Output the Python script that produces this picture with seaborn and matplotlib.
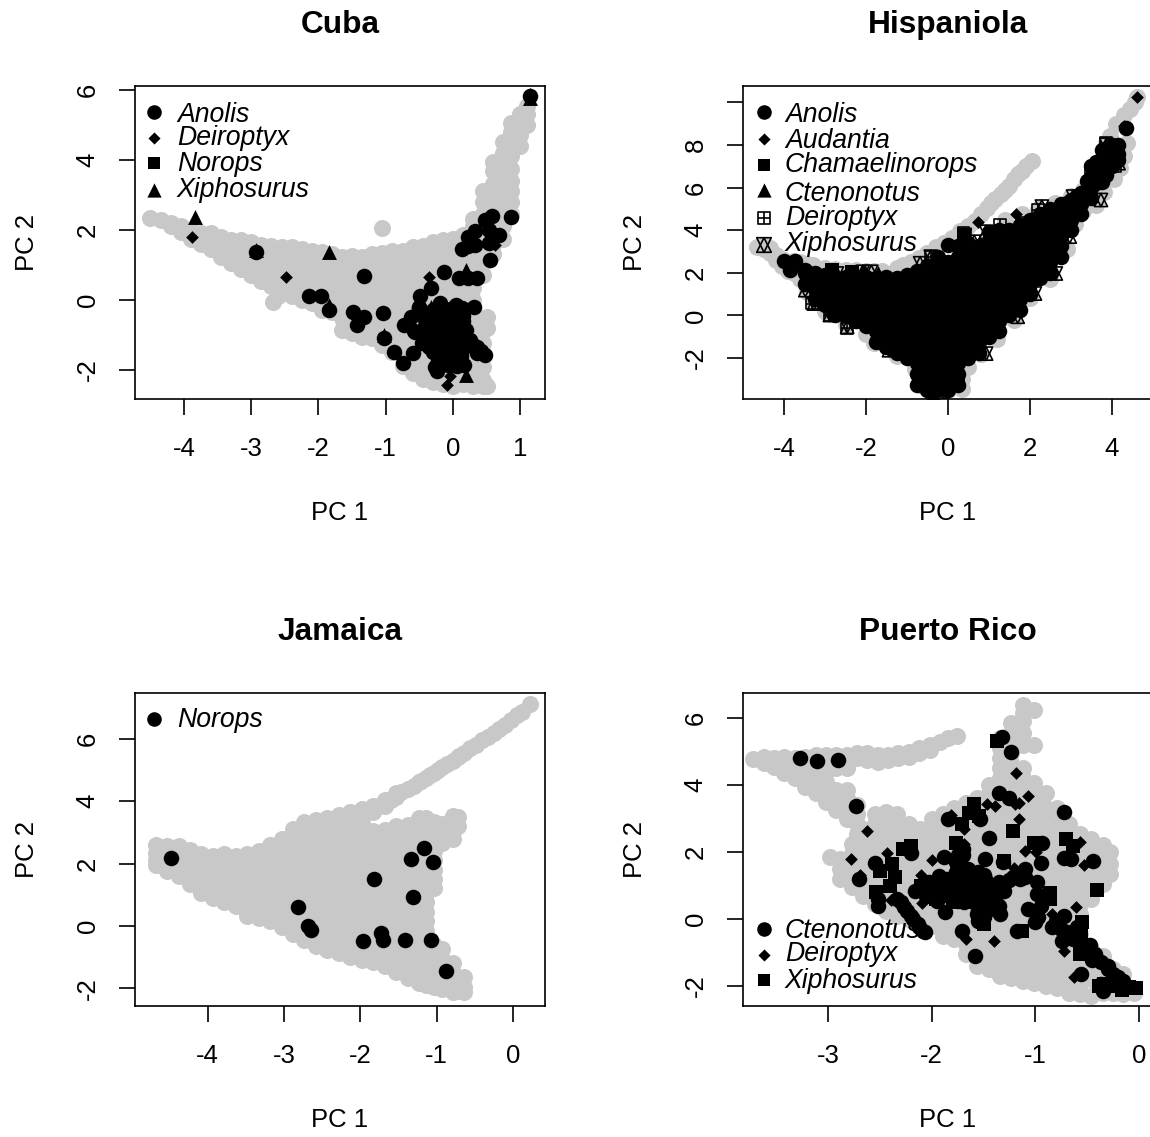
import matplotlib.pyplot as plt
import pandas as pd
import seaborn as sns

# grey cloud as (x, [y, ...]) columns
cuba_grey = [
    (-4.5, [2.35]), (-4.35, [2.27]), (-4.2, [2.1, 2.2]), (-4.05, [1.95, 2.1]), (-3.9, [1.75, 2.0]),
    (-3.75, [1.6, 1.92]), (-3.6, [1.45, 1.75, 1.9]), (-3.45, [1.22, 1.57, 1.8]), (-3.3, [1.05, 1.4, 1.7]),
    (-3.15, [0.87, 1.22, 1.57, 1.7]), (-3.0, [0.7, 1.05, 1.4, 1.65]), (-2.85, [0.55, 0.87, 1.22, 1.57]),
    (-2.7, [0.4, 0.7, 1.05, 1.4, 1.55]), (-2.68, [-0.05]), (-2.6, [0.1]), (-2.55, [0.25, 0.52, 0.87, 1.22, 1.5]),
    (-2.4, [0.1, 0.35, 0.7, 1.05, 1.4, 1.5]), (-2.25, [0.0, 0.17, 0.52, 0.87, 1.22, 1.45]),
    (-2.1, [-0.1, 0.0, 0.35, 0.7, 1.05, 1.4]), (-1.95, [-0.28, -0.18, 0.17, 0.52, 0.87, 1.22, 1.38]),
    (-1.8, [-0.35, 0.0, 0.35, 0.7, 1.05, 1.3]), (-1.65, [-0.85, -0.53, -0.18, 0.17, 0.52, 0.87, 1.22]),
    (-1.5, [-0.95, -0.7, -0.35, 0.0, 0.35, 0.7, 1.05, 1.25]),
    (-1.35, [-1.05, -0.88, -0.53, -0.18, 0.17, 0.52, 0.87, 1.22]),
    (-1.2, [-1.1, -0.7, -0.35, 0.0, 0.35, 0.7, 1.05, 1.3]),
    (-1.05, [-1.3, -0.88, -0.53, -0.18, 0.17, 0.52, 0.87, 1.22, 1.35]),
    (-0.9, [-1.5, -1.05, -0.7, -0.35, 0.0, 0.35, 0.7, 1.05, 1.4]),
    (-0.75, [-1.9, -1.58, -1.23, -0.88, -0.53, -0.18, 0.17, 0.52, 0.87, 1.22, 1.4]),
    (-0.6, [-2.1, -1.75, -1.4, -1.05, -0.7, -0.35, 0.0, 0.35, 0.7, 1.05, 1.4, 1.5]),
    (-0.45, [-2.25, -1.93, -1.58, -1.23, -0.88, -0.53, -0.18, 0.17, 0.52, 0.87, 1.22, 1.55]),
    (-0.3, [-2.35, -2.1, -1.75, -1.4, -1.05, -0.7, -0.35, 0.0, 0.35, 0.7, 1.05, 1.4, 1.65]),
    (-0.15, [-2.4, -2.28, -1.93, -1.58, -1.23, -0.88, -0.53, -0.18, 0.17, 0.52, 0.87, 1.22, 1.57, 1.7]),
    (0.0, [-2.45, -2.1, -1.75, -1.4, -1.05, -0.7, -0.35, 0.0, 0.35, 0.7, 1.05, 1.4, 1.75]),
    (0.15, [-2.4, -2.28, -1.93, -1.58, -1.23, -0.88, -0.53, -0.18, 0.17, 0.52, 0.87, 1.22, 1.57, 1.85]),
    (0.3, [-2.45, -2.1, -1.75, -1.4, -1.05, -0.7, -0.35, 0.0, 0.35, 0.7, 1.05, 1.4, 1.75, 2.1, 2.3]),
    (0.45, [-2.45, -2.28, -1.93, -1.58, -1.23, -0.88, -0.53, 0.72, 1.05, 1.4, 1.75, 2.1, 2.45, 2.8, 3.1]),
    (0.5, [-2.45, -0.5, -0.8]), (0.6, [1.3, 1.57, 1.92, 2.27, 2.62, 2.97, 3.32, 3.67, 3.95]),
    (0.75, [1.75, 2.1, 2.45, 2.8, 3.15, 3.5, 3.85, 4.2, 4.5]), (0.87, [2.45, 2.8, 3.1, 3.4, 3.75, 4.1, 4.45, 4.8, 5.05]),
    (1.0, [4.4, 4.7, 5.0, 5.3]), (1.1, [5.0, 5.3, 5.55]), (-1.06, [2.05]),
]
jamaica_grey = [
    (-4.68, [1.95, 2.1, 2.35, 2.6]), (-4.53, [1.75, 2.05, 2.35, 2.55]), (-4.38, [1.6, 1.8, 2.1, 2.4, 2.55]),
    (-4.23, [1.35, 1.65, 1.95, 2.25, 2.45]), (-4.08, [1.05, 1.2, 1.5, 1.8, 2.1, 2.3]),
    (-3.93, [0.9, 1.05, 1.35, 1.65, 1.95, 2.25]), (-3.78, [0.75, 0.9, 1.2, 1.5, 1.8, 2.1, 2.3]),
    (-3.63, [0.65, 0.75, 1.05, 1.35, 1.65, 1.95, 2.25]), (-3.48, [0.32, 0.6, 0.9, 1.2, 1.5, 1.8, 2.1, 2.3]),
    (-3.33, [0.25, 0.45, 0.75, 1.05, 1.35, 1.65, 1.95, 2.25, 2.4]),
    (-3.18, [0.17, 0.3, 0.6, 0.9, 1.2, 1.5, 1.8, 2.1, 2.4, 2.6]),
    (-3.03, [-0.04, 0.15, 0.45, 0.75, 1.05, 1.35, 1.65, 1.95, 2.25, 2.55, 2.8]),
    (-2.88, [-0.25, 0.0, 0.3, 0.6, 0.9, 1.2, 1.5, 1.8, 2.1, 2.4, 2.7, 3.0, 3.1]),
    (-2.73, [-0.46, -0.15, 0.15, 0.45, 0.75, 1.05, 1.35, 1.65, 1.95, 2.25, 2.55, 2.85, 3.15, 3.33]),
    (-2.58, [-0.66, -0.3, 0.0, 0.3, 0.6, 0.9, 1.2, 1.5, 1.8, 2.1, 2.4, 2.7, 3.0, 3.3, 3.4]),
    (-2.43, [-0.78, -0.45, -0.15, 0.15, 0.45, 0.75, 1.05, 1.35, 1.65, 1.95, 2.25, 2.55, 2.85, 3.15, 3.45]),
    (-2.28, [-0.88, -0.6, -0.3, 0.0, 0.3, 0.6, 0.9, 1.2, 1.5, 1.8, 2.1, 2.4, 2.7, 3.0, 3.3, 3.55]),
    (-2.13, [-0.99, -0.75, -0.45, -0.15, 0.15, 0.45, 0.75, 1.05, 1.35, 1.65, 1.95, 2.25, 2.55, 2.85, 3.15, 3.45, 3.65]),
    (-1.98, [-1.08, -0.9, -0.6, -0.3, 0.0, 0.3, 0.6, 0.9, 1.2, 1.5, 1.8, 2.1, 2.4, 2.7, 3.0, 3.3, 3.6, 3.75]),
    (-1.83, [-1.17, -0.9, -0.6, -0.3, 0.0, 0.3, 0.6, 0.9, 1.2, 1.5, 1.8, 2.1, 2.4, 2.7, 3.03, 3.65, 3.85]),
    (-1.68, [-1.28, -1.05, -0.75, -0.45, -0.15, 0.15, 0.45, 0.75, 1.05, 1.35, 1.65, 1.95, 2.25, 2.55, 2.85, 3.08, 3.85, 4.05]),
    (-1.53, [-1.48, -1.2, -0.9, -0.6, -0.3, 0.0, 0.3, 0.6, 0.9, 1.2, 1.5, 1.8, 2.1, 2.4, 2.7, 3.0, 3.2, 4.15, 4.25]),
    (-1.38, [-1.66, -1.35, -1.05, -0.75, -0.45, -0.15, 0.15, 0.45, 0.75, 1.05, 1.35, 1.65, 1.95, 2.25, 2.55, 2.85, 3.24, 4.4]),
    (-1.23, [-1.84, -1.5, -1.2, -0.9, -0.6, -0.3, 0.0, 0.3, 0.6, 0.9, 1.2, 1.5, 1.8, 2.1, 2.4, 2.7, 3.0, 3.45, 4.6]),
    (-1.14, [-1.9, -1.65, -1.35, -1.05, -0.75, -0.45, -0.15, 0.15, 0.45, 0.75, 1.05, 1.35, 1.65, 1.95, 2.25, 2.55, 2.85, 3.15, 3.45, 4.75]),
    (-1.03, [-1.96, -1.8, -1.5, -1.2, -0.9, -0.6, 1.2, 1.5, 1.8, 2.1, 2.4, 2.7, 3.0, 3.33, 4.9]),
    (-0.93, [-2.03, -1.65, -1.35, -1.05, -0.75, 2.65, 2.85, 3.15, 3.28, 5.1]),
    (-0.78, [-2.13, -1.8, -1.5, -1.2, 2.8, 3.0, 3.3, 3.53, 5.3]), (-0.72, [-2.1, -1.95, 3.2, 3.5, 5.42]),
    (-0.64, [-2.13, -1.95, -1.65, 5.55]),
    (-1.88, [3.7]), (-1.76, [3.85]), (-1.6, [4.05]), (-1.46, [4.3]), (-1.3, [4.5]), (-1.2, [4.65]),
    (-1.08, [4.85]), (-0.98, [5.0]), (-0.86, [5.2]), (-0.7, [5.45]), (-0.56, [5.7]), (-0.48, [5.8]),
    (-0.4, [5.95]), (-0.33, [6.05]), (-0.25, [6.2]), (-0.18, [6.3]), (-0.1, [6.45]), (-0.03, [6.6]),
    (0.05, [6.75]), (0.12, [6.85]), (0.22, [7.12]),
]
pr_grey = [
    (-3.72, [4.78]), (-3.62, [4.65, 4.85]), (-3.52, [4.55, 4.8]), (-3.42, [4.35, 4.65, 4.85]),
    (-3.32, [4.2, 4.5, 4.8]), (-3.22, [3.95, 4.25, 4.55, 4.85]), (-3.12, [3.75, 4.1, 4.4, 4.7, 4.9]),
    (-3.02, [3.5, 3.8, 4.1, 4.4, 4.7, 4.9]), (-2.92, [3.25, 3.55, 3.85, 4.5, 4.7, 4.9]),
    (-2.82, [3.0, 3.3, 3.6, 3.85, 4.5, 4.75, 4.9]), (-2.72, [2.55, 2.85, 3.15, 3.4, 4.8, 4.95]),
    (-2.62, [4.75, 4.95]), (-2.52, [4.7, 4.9]), (-2.42, [4.75, 4.9]), (-2.32, [4.8, 4.95]), (-2.22, [4.85, 5.0]),
    (-2.12, [4.95, 5.1]), (-2.02, [5.05, 5.2]), (-1.92, [5.3]), (-1.84, [5.4]), (-1.76, [5.48]),
    (-2.98, [1.85]), (-2.88, [1.2, 1.5, 1.8]), (-2.77, [0.95, 1.05, 1.35, 1.65, 1.95, 2.25]),
    (-2.66, [0.7, 0.9, 1.2, 1.5, 1.8, 2.1, 2.4, 2.7]),
    (-2.55, [0.45, 0.75, 1.05, 1.35, 1.65, 1.95, 2.25, 2.55, 2.85, 3.15]),
    (-2.44, [0.25, 0.6, 0.9, 1.2, 1.5, 1.8, 2.1, 2.4, 2.7, 3.0, 3.2]),
    (-2.33, [0.1, 0.45, 0.75, 1.05, 1.35, 1.65, 1.95, 2.25, 2.55, 2.85, 3.15]),
    (-2.22, [0.0, 0.3, 0.6, 0.9, 1.2, 1.5, 1.8, 2.1, 2.4, 2.7, 2.85]),
    (-2.11, [-0.1, 0.15, 0.45, 0.75, 1.05, 1.35, 1.65, 1.95, 2.25, 2.55, 2.7]),
    (-2.0, [-0.2, 0.0, 0.3, 0.6, 0.9, 1.2, 1.5, 1.8, 2.1, 2.4, 2.7, 3.0]),
    (-1.89, [-0.5, -0.15, 0.15, 0.45, 0.75, 1.05, 1.35, 1.65, 1.95, 2.25, 2.55, 2.85, 3.15]),
    (-1.78, [-0.6, -0.3, 0.0, 0.3, 0.6, 0.9, 1.2, 1.5, 1.8, 2.1, 2.4, 2.7, 3.0, 3.3]),
    (-1.67, [-1.05, -0.75, -0.45, -0.15, 0.15, 0.45, 0.75, 1.05, 1.35, 1.65, 1.95, 2.25, 2.55, 2.85, 3.15, 3.45]),
    (-1.56, [-1.4, -1.2, -0.9, -0.6, -0.3, 0.0, 0.3, 0.6, 0.9, 1.2, 1.5, 1.8, 2.1, 2.4, 2.7, 3.0, 3.3, 3.6]),
    (-1.45, [-1.5, -1.35, -1.05, -0.75, -0.45, -0.15, 0.15, 0.45, 0.75, 1.05, 1.35, 1.65, 1.95, 2.25, 2.55, 2.85, 3.15, 3.45, 3.75, 4.0]),
    (-1.34, [-1.7, -1.5, -1.2, -0.9, -0.6, -0.3, 0.0, 0.3, 0.6, 0.9, 1.2, 1.5, 1.8, 2.1, 2.4, 2.7, 3.0, 3.3, 3.6, 3.9, 4.2, 4.5, 4.8, 5.1, 5.4]),
    (-1.23, [-1.75, -1.35, -1.05, -0.75, -0.45, -0.15, 0.15, 0.45, 0.75, 1.05, 1.35, 1.65, 1.95, 2.25, 2.55, 2.85, 3.15, 3.45, 3.75, 4.05, 4.35, 4.65, 4.95, 5.25, 5.55, 5.85]),
    (-1.12, [-1.85, -1.5, -1.2, -0.9, -0.6, -0.3, 0.0, 0.3, 0.6, 0.9, 1.2, 1.5, 1.8, 2.1, 2.4, 2.7, 3.0, 3.3, 3.6, 3.9, 4.2, 4.5, 5.2, 5.55, 5.9, 6.15, 6.4]),
    (-1.01, [-1.9, -1.65, -1.35, -1.05, -0.75, -0.45, -0.15, 0.15, 0.45, 0.75, 1.05, 1.35, 1.65, 1.95, 2.25, 2.55, 2.85, 3.15, 3.45, 3.75, 4.05, 5.2, 6.23]),
    (-0.9, [-2.0, -1.8, -1.5, -1.2, -0.9, -0.6, -0.3, 0.0, 0.3, 0.6, 0.9, 1.2, 1.5, 1.8, 2.1, 2.4, 2.7, 3.0, 3.3, 3.75]),
    (-0.79, [-2.05, -1.65, -1.35, -1.05, -0.75, -0.45, -0.15, 0.15, 0.45, 0.75, 1.05, 1.35, 1.65, 1.95, 2.25, 2.55, 2.85, 3.3]),
    (-0.68, [-2.2, -1.8, -1.5, -1.2, -0.9, -0.6, -0.3, 0.0, 0.3, 0.6, 0.9, 1.2, 1.5, 1.8, 2.1, 2.4, 2.7, 2.85]),
    (-0.57, [-2.25, -1.95, -1.65, -1.35, -1.05, -0.75, -0.45, -0.15, 0.15, 0.45, 0.75, 1.05, 1.35, 1.65, 1.95, 2.25, 2.55]),
    (-0.46, [-2.3, -1.8, -1.5, -1.2, -0.9, 0.6, 0.9, 1.2, 1.5, 1.8, 2.1, 2.4]),
    (-0.35, [-2.2, -1.95, -1.65, -1.35, -1.1, 1.05, 1.35, 1.65, 1.95, 2.2]),
    (-0.28, [1.35, 1.65, 2.0]), (-0.25, [-2.2, -1.8, -1.5]), (-0.15, [-2.25, -1.95, -1.65]), (-0.05, [-2.2]),
]
hispaniola_grey = [
    (-4.66, [3.23]), (-4.5, [3.1, 3.3]), (-4.35, [2.95, 3.15]), (-4.2, [2.6, 2.85]), (-4.05, [2.3, 2.65]),
    (-3.9, [2.1, 2.5]), (-3.75, [2.0, 2.55]), (-3.6, [1.7, 2.5]), (-3.45, [1.1, 2.4]), (-3.3, [0.7, 2.35]),
    (-3.0, [0.2, 2.25]), (-2.75, [2.2]), (-2.95, [0.1]), (-2.5, [-0.4, 2.15]), (-2.25, [2.15]), (-2.0, [-0.85, 2.1]),
    (-1.8, [-1.3, 2.1]), (-1.6, [2.1]), (-1.25, [-1.9, 2.25]), (-1.1, [2.35]), (-0.9, [2.5]), (-0.8, [-2.5]),
    (-0.7, [2.7]), (-0.6, [-3.3]), (-0.5, [2.95]), (-0.3, [-3.6, 3.2]), (-0.1, [3.4]), (0.0, [-3.5]), (0.1, [3.65]),
    (0.3, [3.95]), (0.35, [-3.43, -3.0]), (0.5, [-2.4, 4.2]), (0.65, [4.45]), (0.8, [-1.8, 4.75]), (0.95, [5.05]),
    (1.05, [5.3]), (1.15, [5.45]), (1.2, [-1.1]), (1.3, [5.7]), (1.4, [4.5, 5.9]), (1.5, [6.1]), (1.6, [-0.2, 6.4]),
    (1.7, [6.65]), (1.8, [4.75, 6.8]), (1.9, [7.0]), (2.0, [0.8]), (2.04, [7.23]), (2.2, [5.0]), (2.5, [1.7]),
    (2.6, [5.3]), (2.9, [3.1]), (3.0, [5.6]), (3.1, [4.3]), (3.3, [4.9, 5.9]), (3.6, [5.2]), (3.8, [5.8]),
    (3.85, [8.1]), (3.95, [8.4]), (4.05, [6.4]), (4.1, [9.0]), (4.2, [6.9]), (4.3, [7.5, 9.4]), (4.37, [8.09]),
    (4.45, [9.7]), (4.55, [10.0]), (4.62, [10.25]),
]

# black marks
cuba_anolis_x = [1.14, 0.86, 0.58, 0.47, 0.33, 0.53, 0.69, 0.22, 0.33, 0.53, 0.13, 0.22, 0.55, -0.13, 0.09, 0.22, 0.36, -1.33, -2.93, -2.14, -1.96, -1.84, -1.49, -1.33, -1.43, -1.04, -1.03, -0.88, -0.75, -0.6, -0.32, -0.49, -0.51, -0.62, -0.73, -0.57, -0.46, -0.19, 0.0, 0.31, 0.14, -0.3, -0.13, 0.06, -0.35, -0.19, -0.02, 0.11, -0.4, -0.24, -0.08, 0.09, 0.25, -0.35, -0.19, -0.02, 0.14, 0.36, -0.19, -0.02, 0.36, 0.48, -0.27, -0.1, 0.17, 0.03, -0.24]
cuba_anolis_y = [5.82, 2.37, 2.41, 2.27, 1.96, 2.0, 1.86, 1.81, 1.58, 1.62, 1.46, 1.53, 1.15, 0.81, 0.62, 0.62, 0.62, 0.69, 1.36, 0.12, 0.12, -0.29, -0.35, -0.48, -0.72, -0.38, -1.1, -1.48, -1.81, -1.53, 0.33, 0.1, -0.24, -0.48, -0.72, -0.91, -1.24, -0.1, -0.24, -0.21, -0.24, -0.48, -0.48, -0.53, -0.76, -0.76, -0.76, -0.76, -1.05, -1.05, -1.05, -1.05, -1.15, -1.34, -1.34, -1.34, -1.43, -1.34, -1.62, -1.62, -1.53, -1.58, -1.91, -1.81, -1.86, -1.72, -2.02]
cuba_core_x = [-0.3, -0.15, 0.0, 0.15, -0.3, -0.15, 0.0, 0.15, -0.38, -0.22, -0.08, 0.08, 0.2, -0.3, -0.15, 0.0, 0.15, -0.3, -0.15, 0.0, 0.12, -0.22, -0.08, 0.06, -0.12, 0.05, -0.42, -0.58, -0.42, -0.5, 0.3, 0.42]
cuba_core_y = [-0.3, -0.45, -0.4, -0.45, -0.75, -0.6, -0.9, -0.6, -0.9, -0.9, -0.85, -0.9, -0.85, -1.2, -1.2, -1.2, -1.2, -1.5, -1.5, -1.5, -1.6, -1.75, -1.85, -1.9, -0.25, -0.15, -0.55, -0.9, -0.75, -0.2, -1.3, -1.45]
cuba_deiroptyx_x = [-0.09, -0.05, -3.88, -2.49, -0.36, 1.14, 0.63]
cuba_deiroptyx_y = [-2.43, -2.18, 1.79, 0.65, 0.65, 5.87, 1.58]
cuba_norops_x = [-0.1, 0.05]
cuba_norops_y = [-1.2, -1.0]
cuba_xiphosurus_x = [-3.83, -1.85, 0.19, 0.2, 1.14, -2.93, -1.03, -0.32, -1.84]
cuba_xiphosurus_y = [2.37, 1.38, -2.15, 0.86, 5.78, 1.43, -1.0, -0.19, -0.14]

hispaniola_anolis = [
    (-3.99, [2.55]), (-3.86, [2.13]), (-3.73, [2.55]), (-3.49, [2.13]), (-3.5, [1.5, 2.0]), (-3.25, [0.75, 1.25, 1.75, 2.0]),
    (-3.0, [0.5, 1.0, 1.5, 1.9]), (-2.75, [0.0, 0.25, 0.75, 1.25, 1.75]), (-2.5, [0.0, 0.5, 1.0, 1.5, 1.8]),
    (-2.25, [-0.25, 0.25, 0.75, 1.25, 1.75]), (-2.0, [-0.5, 0.0, 0.5, 1.0, 1.5, 1.8]),
    (-1.75, [-1.25, -0.75, -0.25, 0.25, 0.75, 1.25, 1.75]), (-1.5, [-1.5, -1.0, -0.5, 0.0, 0.5, 1.0, 1.5, 1.8]),
    (-1.25, [-1.75, -1.25, -0.75, -0.25, 0.25, 0.75, 1.25, 1.75]), (-1.0, [-2.0, -1.5, -1.0, -0.5, 0.0, 0.5, 1.0, 1.5, 1.9]),
    (-0.75, [-3.25, -2.75, -2.25, -1.75, -1.25, -0.75, -0.25, 0.25, 0.75, 1.25, 1.75, 2.1]),
    (-0.5, [-3.5, -3.0, -2.5, -2.0, -1.5, -1.0, -0.5, 0.0, 0.5, 1.0, 1.5, 2.0, 2.3]),
    (-0.25, [-3.25, -2.75, -2.25, -1.75, -1.25, -0.75, -0.25, 0.25, 0.75, 1.25, 1.75, 2.25, 2.75]),
    (0.0, [-3.5, -3.0, -2.5, -2.0, -1.5, -1.0, -0.5, 0.0, 0.5, 1.0, 1.5, 2.0, 2.5, 3.31]),
    (0.25, [-3.25, -2.75, -2.25, -1.75, -1.25, -0.75, -0.25, 0.25, 0.75, 1.25, 1.75, 2.25, 2.75, 3.25]),
    (0.5, [-2.0, -1.5, -1.0, -0.5, 0.0, 0.5, 1.0, 1.5, 2.0, 2.5, 3.0, 3.4]),
    (0.75, [-1.75, -1.25, -0.75, -0.25, 0.25, 0.75, 1.25, 1.75, 2.25, 2.75, 3.25]),
    (1.0, [-1.0, -0.5, 0.0, 0.5, 1.0, 1.5, 2.0, 2.5, 3.0, 3.5, 3.9]),
    (1.25, [-0.75, -0.25, 0.25, 0.75, 1.25, 1.75, 2.25, 2.75, 3.25, 3.75, 4.0]),
    (1.5, [0.0, 0.5, 1.0, 1.5, 2.0, 2.5, 3.0, 3.5, 4.0]), (1.75, [0.25, 0.75, 1.25, 1.75, 2.25, 2.75, 3.25, 3.75, 4.25]),
    (2.0, [1.0, 1.5, 2.0, 2.5, 3.0, 3.5, 4.0, 4.5]), (2.25, [1.75, 2.25, 2.75, 3.25, 3.75, 4.25, 4.75]),
    (2.5, [2.0, 2.5, 3.0, 3.5, 4.0, 4.5, 5.0]), (2.75, [2.75, 3.25, 3.75, 4.25, 4.75, 5.25]), (2.9, [4.4, 4.9, 5.3]),
    (3.0, [4.0, 4.5, 5.0, 5.4]), (3.15, [5.1, 5.6]), (3.25, [4.75, 5.25, 5.75]), (3.4, [5.8, 6.3]),
    (3.5, [5.5, 6.0, 6.5, 7.0]), (3.6, [6.2, 6.7, 7.2]), (3.75, [6.25, 6.75, 7.25, 7.75]), (3.85, [6.6, 7.0, 7.5]),
    (4.0, [7.0, 7.5, 8.0]), (4.14, [7.3, 7.6, 8.01]), (4.33, [8.79]),
]
hispaniola_audantia_x = [4.62, 0.72, 1.65, 4.3]
hispaniola_audantia_y = [10.25, 4.4, 4.78, 8.9]
hispaniola_chamaelinorops_x = [-2.84, -2.33, -0.55, 0.25, 0.38, -0.3]
hispaniola_chamaelinorops_y = [2.13, 2.05, -3.2, -3.1, 3.78, -3.5]
hispaniola_ctenonotus_x = [-3.0, -2.08, -1.7, 3.9, 2.5, -0.36]
hispaniola_ctenonotus_y = [1.9, 2.1, 2.0, 7.6, 3.3, -3.7]
hispaniola_deiroptyx_x = [0.42, -2.88, 3.48, 2.2, 1.87, 1.27, -3.31, -2.46, -0.72, -0.13, 3.86, 4.07, 0.38, -0.42]
hispaniola_deiroptyx_y = [3.78, 0.02, 6.83, 4.95, 4.33, 4.25, 0.56, -0.61, -3.12, -3.59, 8.09, 6.99, 3.86, 2.76]
hispaniola_xiphosurus_x = [3.86, 4.16, 3.56, 3.05, 2.29, 0.93, 0.64, 0.41, -0.42, -0.68, -1.87, -2.08, -2.71, -3.1, -3.48, -3.27, -2.88, -2.46, -1.44, 0.93, 1.7, 2.12, 2.63, 2.97, 3.73, -0.38, 0.25, 2.08]
hispaniola_xiphosurus_y = [8.01, 7.15, 6.83, 5.58, 5.11, 3.93, 3.46, 3.78, 2.76, 2.45, 2.05, 2.05, 1.97, 1.82, 1.19, 0.56, 0.02, -0.53, -1.63, -1.79, -0.06, 1.03, 1.97, 3.7, 5.42, -3.67, -3.12, 3.7]

jamaica_norops_x = [-4.48, -1.16, -1.33, -1.05, -1.82, -1.31, -2.81, -2.68, -2.64, -1.96, -1.73, -1.7, -1.42, -1.07, -0.88]
jamaica_norops_y = [2.19, 2.5, 2.13, 2.04, 1.51, 0.93, 0.6, 0.01, -0.12, -0.49, -0.22, -0.46, -0.46, -0.44, -1.45]

pr_ctenonotus_x = [-3.27, -3.11, -2.9, -2.73, -1.32, -1.23, -1.35, -1.25, -0.72, -1.84, -1.53, -1.45, -0.94, -2.2, -2.55, -2.7, -2.52, -2.52, -0.44, -0.72, -0.66, -0.95, -1.31, -1.49, -1.88, -1.87, -1.58, -1.71, -1.18, -0.56, -1.34, -1.56, -1.07, -0.97, -0.84, -0.98, -0.98, -0.72, -0.69, -0.74, -0.64, -0.45, -0.37, -0.3, -0.2, -0.37, -0.35, -0.47, -2.16, -2.03, -1.93, -1.83, -1.72, -1.62, -1.55, -1.49, -1.4, -1.49, -1.62, -1.39, -1.3, -1.22, -1.1, -1.1, -1.77, -1.77, -1.99, -1.83, -1.69, -1.52, -2.33, -2.27, -2.2, -2.13, -2.08]
pr_ctenonotus_y = [4.81, 4.71, 4.74, 3.38, 5.43, 5.0, 3.75, 3.62, 3.2, 2.98, 2.98, 2.43, 2.28, 1.97, 1.66, 1.19, 0.6, 0.38, 1.74, 1.82, 1.79, 1.67, 1.69, 1.79, 1.84, 0.22, -1.12, -0.35, -0.35, -1.64, 0.15, 0.15, 0.3, 0.05, -0.25, 1.09, 0.74, 0.1, -0.4, -0.65, -0.6, -1.24, -1.29, -1.49, -1.74, -1.94, -2.16, -0.79, 0.84, 1.09, 1.29, 0.99, 0.89, 1.09, 1.39, 1.19, 0.89, 0.69, 0.69, 0.6, 1.04, 1.24, 1.49, 1.24, 1.39, 1.69, 0.84, 0.69, 0.5, 0.4, 0.6, 0.35, 0.1, -0.15, -0.35]
pr_core_x = [-2.1, -2.0, -1.95, -1.9, -1.85, -1.8, -1.75, -1.7, -1.65, -1.6, -1.55, -1.5, -1.45, -1.4, -1.35, -1.3, -1.25, -1.75, -1.7, -1.75, -1.7, -1.65, -1.55, -1.5, -1.45, -1.6, -1.55, -1.45, -1.4, -1.5, -1.55, -1.35, -1.65, -1.6, -1.75, -1.85, -1.95, -2.05, -1.15, -0.95, -1.0, -0.8, -0.75, -0.67, -0.6, -0.55, -0.5, -0.42, -0.3, -0.25, -0.15, -2.3, -2.24, -2.18, -2.12, -2.06]
pr_core_y = [0.9, 0.7, 1.1, 0.9, 1.2, 1.0, 1.15, 0.75, 1.25, 0.95, 0.85, 1.3, 1.0, 0.7, 1.1, 0.85, 1.15, 1.9, 2.1, 1.55, 1.9, 1.3, 1.1, 0.9, 0.8, 0.6, 0.3, 0.45, 0.3, 0.05, -0.05, 0.4, 1.5, 1.35, 0.55, 0.85, 0.55, 0.7, 1.2, 0.4, -0.1, -0.05, -0.3, -0.5, -0.25, -0.75, -0.95, -1.05, -1.4, -1.65, -1.85, 0.5, 0.25, 0.0, -0.25, -0.4]
pr_deiroptyx_x = [-1.19, -1.07, -1.47, -1.39, -1.16, -1.2, -1.16, -1.81, -2.62, -2.78, -2.43, -2.0, -1.1, -0.99, -0.57, -0.53, -1.21, -2.69, -2.1, -2.39, -2.09, -0.84, -0.61, -0.72, -0.63, -1.4, -1.67, -2.05, -1.69, -1.69]
pr_deiroptyx_y = [4.36, 3.67, 3.44, 3.37, 3.47, 3.42, 3.0, 3.1, 2.62, 1.79, 1.97, 1.75, 2.02, 2.0, 2.31, 1.61, 1.52, 1.31, 1.31, 0.57, 0.48, 0.15, 0.37, -0.97, -1.74, -0.65, -0.6, -0.43, 2.68, 2.23]
pr_xiphosurus_x = [-1.37, -1.59, -1.54, -1.64, -1.71, -1.22, -2.28, -2.2, -1.77, -1.01, -0.7, -0.64, -2.38, -2.5, -2.35, -2.4, -2.54, -1.3, -1.5, -1.13, -0.86, -0.86, -0.41, -0.55, -0.56, -0.34, -0.23, -0.16, -0.03, -0.1, -0.39, -0.54, -0.57, -1.72, -1.72, -1.96, -1.79, -2.1, -1.57]
pr_xiphosurus_y = [5.33, 3.44, 3.08, 3.18, 2.83, 2.64, 2.08, 2.18, 2.28, 2.28, 2.38, 2.18, 1.64, 1.44, 1.24, 0.99, 0.81, 1.74, -0.15, -0.35, 0.77, 0.6, 0.86, -0.1, -0.4, -1.94, -1.99, -2.13, -2.06, -2.03, -1.99, -0.79, -1.04, 1.69, 1.29, 0.6, 0.5, 0.99, 0.5]

GREY = "#C8C8C8"
W, H = 1150, 1137
SIZES = {"o": 125, "D": 42, "s": 88, "^": 115}
KEY_SIZES = {"o": 110, "D": 38, "s": 80, "^": 105}


def flatten(columns):
    rows = [(x, y) for x, ys in columns for y in ys]
    return pd.DataFrame(rows, columns=["pc1", "pc2"])


def dots(ax, x, y, kind, zorder=3):
    # kind is one of the R pch style symbols used in the figure
    if kind in SIZES:
        sns.scatterplot(x=x, y=y, ax=ax, color="black", marker=kind, s=SIZES[kind], linewidth=0, zorder=zorder, legend=False)
    elif kind == "plus":
        ax.scatter(x, y, marker="s", s=70, facecolors="none", edgecolors="black", linewidths=1.2, zorder=zorder)
        ax.scatter(x, y, marker="+", s=70, color="black", linewidths=1.2, zorder=zorder)
    elif kind == "star":
        ax.scatter(x, y, marker="^", s=90, facecolors="none", edgecolors="black", linewidths=1.2, zorder=zorder)
        ax.scatter(x, y, marker="v", s=90, facecolors="none", edgecolors="black", linewidths=1.2, zorder=zorder)


def key(fig, ax, mark_x, text_x, items):
    # hand placed legend, the spacing in the original is uneven
    for name, kind, mark_y, base_y in items:
        fx, fy = [mark_x / W], [1 - mark_y / H]
        if kind == "plus":
            ax.scatter(fx, fy, marker="s", s=70, facecolors="none", edgecolors="black", linewidths=1.2, transform=fig.transFigure, clip_on=False, zorder=6)
            ax.scatter(fx, fy, marker="+", s=70, color="black", linewidths=1.2, transform=fig.transFigure, clip_on=False, zorder=6)
        elif kind == "star":
            ax.scatter(fx, fy, marker="^", s=110, facecolors="none", edgecolors="black", linewidths=1.2, transform=fig.transFigure, clip_on=False, zorder=6)
            ax.scatter(fx, fy, marker="v", s=110, facecolors="none", edgecolors="black", linewidths=1.2, transform=fig.transFigure, clip_on=False, zorder=6)
        else:
            ax.scatter(fx, fy, marker=kind, s=KEY_SIZES[kind], color="black", linewidths=0, transform=fig.transFigure, clip_on=False, zorder=6)
        fig.text(text_x / W, 1 - base_y / H, name, style="italic", fontsize=19.2, va="baseline", ha="left")


def panel(fig, box, title, grey, xticks, yticks, ylabels=None):
    left, top, right, bottom = box
    ax = fig.add_axes([left / W, 1 - bottom / H, (right - left) / W, (bottom - top) / H])
    bg = flatten(grey)
    sns.scatterplot(data=bg, x="pc1", y="pc2", ax=ax, color=GREY, s=150, linewidth=0, zorder=2, legend=False)
    ax.set_title(title, fontsize=22.8, fontweight="bold", pad=38.5)
    ax.set_xticks(xticks)
    ax.set_yticks(yticks)
    ax.set_xticklabels([str(t) for t in xticks])
    ax.set_yticklabels(ylabels if ylabels else [str(t) for t in yticks], rotation=90, va="center")
    ax.tick_params(axis="both", length=11.5, width=1.2, labelsize=18.5, color="black", labelcolor="black")
    ax.tick_params(axis="x", pad=16)
    ax.tick_params(axis="y", pad=14)
    ax.set_xlabel("PC 1", fontsize=18.5, va="center")
    ax.set_ylabel("PC 2", fontsize=18.5, va="center")
    ax.xaxis.set_label_coords(0.5, -114 / (bottom - top))
    ax.yaxis.set_label_coords(-108 / (right - left), 0.5)
    return ax


def main():
    sns.set_style("ticks")
    plt.rcParams["font.family"] = ["Liberation Sans", "DejaVu Sans"]
    plt.rcParams["axes.unicode_minus"] = False
    plt.rcParams["axes.linewidth"] = 1.2
    plt.rcParams["axes.edgecolor"] = "black"
    plt.rcParams["text.color"] = "black"
    plt.rcParams["axes.labelcolor"] = "black"

    fig = plt.figure(figsize=(W / 100, H / 100), dpi=100)

    ax = panel(fig, (135, 86, 545, 399), "Cuba", cuba_grey, [-4, -3, -2, -1, 0, 1], [-2, 0, 2, 4, 6])
    dots(ax, cuba_norops_x, cuba_norops_y, "s")
    dots(ax, cuba_anolis_x, cuba_anolis_y, "o")
    dots(ax, cuba_core_x, cuba_core_y, "o")
    dots(ax, cuba_deiroptyx_x, cuba_deiroptyx_y, "D")
    dots(ax, cuba_xiphosurus_x, cuba_xiphosurus_y, "^")
    key(fig, ax, 154, 177, [("Anolis", "o", 112, 122), ("Deiroptyx", "D", 138, 145), ("Norops", "s", 163, 171), ("Xiphosurus", "^", 190, 197)])
    ax.set_xlim(-4.73, 1.37)
    ax.set_ylim(-2.83, 6.11)

    ax = panel(fig, (743, 86, 1153, 399), "Hispaniola", hispaniola_grey, [-4, -2, 0, 2, 4], [-2, 0, 2, 4, 6, 8, 10], ["-2", "0", "2", "4", "6", "8", ""])
    anolis = flatten(hispaniola_anolis)
    dots(ax, hispaniola_deiroptyx_x, hispaniola_deiroptyx_y, "plus", zorder=2.5)
    dots(ax, hispaniola_xiphosurus_x, hispaniola_xiphosurus_y, "star", zorder=2.5)
    dots(ax, anolis["pc1"], anolis["pc2"], "o")
    dots(ax, hispaniola_audantia_x, hispaniola_audantia_y, "D")
    dots(ax, hispaniola_chamaelinorops_x, hispaniola_chamaelinorops_y, "s")
    dots(ax, hispaniola_ctenonotus_x, hispaniola_ctenonotus_y, "^")
    key(fig, ax, 764, 785, [("Anolis", "o", 112, 122), ("Audantia", "D", 139, 148), ("Chamaelinorops", "s", 165, 172), ("Ctenonotus", "^", 190, 201), ("Deiroptyx", "plus", 218, 225), ("Xiphosurus", "star", 245, 251)])
    ax.set_xlim(-5.0, 5.0)
    ax.set_ylim(-3.92, 10.77)

    ax = panel(fig, (135, 693, 545, 1006), "Jamaica", jamaica_grey, [-4, -3, -2, -1, 0], [-2, 0, 2, 4, 6])
    dots(ax, jamaica_norops_x, jamaica_norops_y, "o")
    key(fig, ax, 154, 177, [("Norops", "o", 719, 727)])
    ax.set_xlim(-4.95, 0.42)
    ax.set_ylim(-2.57, 7.47)

    ax = panel(fig, (743, 693, 1153, 1006), "Puerto Rico", pr_grey, [-3, -2, -1, 0], [-2, 0, 2, 4, 6])
    dots(ax, pr_ctenonotus_x, pr_ctenonotus_y, "o")
    dots(ax, pr_core_x, pr_core_y, "o")
    dots(ax, pr_deiroptyx_x, pr_deiroptyx_y, "D")
    dots(ax, pr_xiphosurus_x, pr_xiphosurus_y, "s")
    key(fig, ax, 764, 785, [("Ctenonotus", "o", 929, 938), ("Deiroptyx", "D", 955, 961), ("Xiphosurus", "s", 980, 988)])
    ax.set_xlim(-3.82, 0.135)
    ax.set_ylim(-2.6, 6.75)

    fig.savefig("out.png", dpi=100)


if __name__ == "__main__":
    main()
